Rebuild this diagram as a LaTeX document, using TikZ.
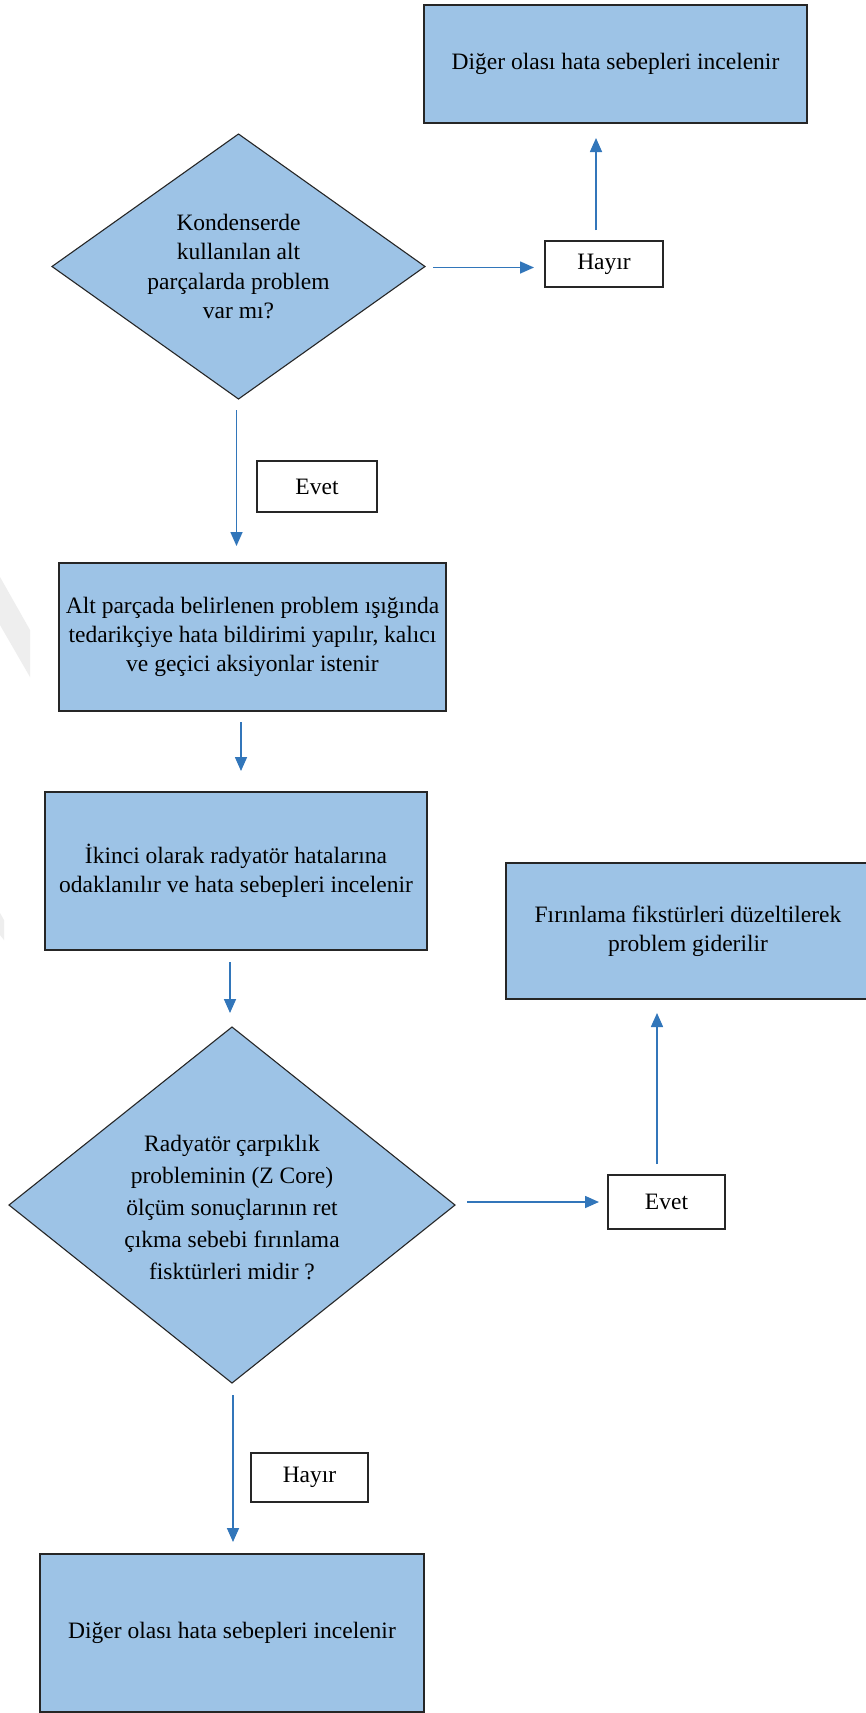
\documentclass[tikz,border=0pt]{standalone}
\usepackage{fontspec}
\setmainfont{Liberation Serif}
\usetikzlibrary{shapes.geometric,arrows.meta,calc}
\definecolor{boxblue}{RGB}{157,195,230}
\definecolor{arrblue}{RGB}{50,118,186}
\definecolor{edgecol}{RGB}{38,38,38}
\definecolor{wmgray}{RGB}{238,238,238}
\begin{document}
\begin{tikzpicture}[x=1pt,y=-1pt,
  every node/.style={font=\fontsize{23.5}{29}\selectfont, align=center, inner sep=0pt, outer sep=0pt},
  proc/.style={rectangle, draw=edgecol, line width=1.3pt, fill=boxblue},
  dec/.style={diamond, draw=edgecol, line width=1.1pt, fill=boxblue},
  tag/.style={rectangle, draw=edgecol, line width=1.3pt, fill=white},
  dtext/.style={font=\fontsize{23.5}{29.5}\selectfont},
  arr/.style={draw=arrblue, line width=1.6pt, -{Triangle[length=14pt,width=12pt]}}]
\useasboundingbox (0,0) rectangle (866,1713);
\fill[white] (0,0) rectangle (866,1713);
% faint watermark remnants
\fill[wmgray] (0,577) -- (30,630) -- (30,677) -- (0,625) -- cycle;
\fill[wmgray] (0,913) -- (4,920) -- (4,940) -- (0,935) -- cycle;

% nodes
\node[proc, minimum width=383pt, minimum height=118pt] (a) at (615.5,64) {Diğer olası hata sebepleri incelenir};
\node[dec, minimum width=373pt, minimum height=265pt] (d1) at (238.5,266.5) {};
\node[dtext] (d1t) at (238.5,266.5) {Kondenserde\\kullanılan alt\\parçalarda problem\\var mı?};
\node[tag, minimum width=118pt, minimum height=46pt] (h1) at (604,264) {Hayır};
\node[tag, minimum width=120pt, minimum height=51pt] (e1) at (317,486.5) {Evet};
\node[proc, minimum width=387pt, minimum height=148pt] (b) at (252.5,637) {Alt parçada belirlenen problem ışığında\\tedarikçiye hata bildirimi yapılır, kalıcı\\ve geçici aksiyonlar istenir};
\node[proc, minimum width=382pt, minimum height=158pt] (c) at (236,871) {İkinci olarak radyatör hatalarına\\odaklanılır ve hata sebepleri incelenir};
\node[proc, minimum width=364pt, minimum height=136pt] (d) at (688,931) {Fırınlama fikstürleri düzeltilerek\\problem giderilir};
\node[dec, minimum width=446pt, minimum height=356pt] (d2) at (232,1205) {};
\node[font=\fontsize{23.5}{32}\selectfont] (d2t) at (232,1207) {Radyatör çarpıklık\\probleminin (Z Core)\\ölçüm sonuçlarının ret\\çıkma sebebi fırınlama\\fisktürleri midir ?};
\node[tag, minimum width=117pt, minimum height=54pt] (e2) at (666.5,1202) {Evet};
\node[tag, minimum width=117pt, minimum height=49pt] (h2) at (309.5,1477.5) {Hayır};
\node[proc, minimum width=384pt, minimum height=158pt] (e) at (232,1633) {Diğer olası hata sebepleri incelenir};

% connectors
\draw[arr] ($(d1.east)+(8,1)$) -- ($(h1.west |- d1.east)+(-11,1)$);
\draw[arr] ($(h1.north)+(-8,-11)$) -- ($(h1.north |- a.south)+(-8,15)$);
\draw[arr] ($(d1.south)+(-2,11)$) -- ($(d1.south |- b.north)+(-2,-17)$);
\draw[arr] ($(b.south)+(-11.5,11)$) -- ($(b.south |- c.north)+(-11.5,-21)$);
\draw[arr] ($(c.south)+(-6,12)$) -- ($(c.south |- d2.north)+(-6,-14)$);
\draw[arr] ($(d2.east)+(12,-3)$) -- ($(e2.west |- d2.east)+(-9,-3)$);
\draw[arr] ($(e2.north)+(-9.5,-11)$) -- ($(e2.north |- d.south)+(-9.5,14)$);
\draw[arr] ($(d2.south)+(1,12)$) -- ($(d2.south |- e.north)+(1,-12)$);
\end{tikzpicture}
\end{document}
